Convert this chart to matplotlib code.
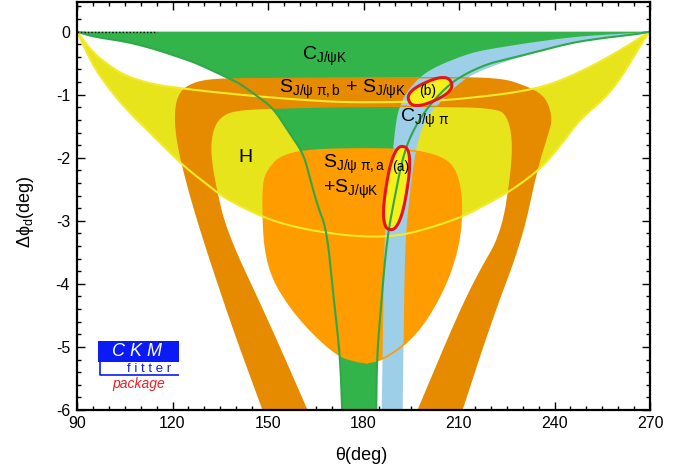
import numpy as np
import matplotlib
matplotlib.use("Agg")
import matplotlib.pyplot as plt
from matplotlib.patches import Polygon, Rectangle

plt.rcParams['font.family'] = ['Liberation Sans', 'DejaVu Sans']
plt.rcParams['mathtext.fontset'] = 'custom'
plt.rcParams['mathtext.rm'] = 'Liberation Sans'
plt.rcParams['mathtext.it'] = 'Liberation Sans:italic'
plt.rcParams['mathtext.bf'] = 'Liberation Sans:bold'
plt.rcParams['mathtext.sf'] = 'Liberation Sans'
plt.rcParams['axes.unicode_minus'] = False

# ---------------- constraint boundaries (theta [deg], delta phi_d [deg]) ----------------
# C_{J/psi K}: left and right edges of the allowed band (top to bottom)
c_jpsik_left_theta = [90, 95.1, 105.7, 114, 121.3, 127, 131.8, 136, 139, 141, 146, 151.6, 156, 161.1,
                      163, 165.5, 168.5, 170.5, 172.6, 173.3]
c_jpsik_left_phi = [0, -0.08, -0.16, -0.27, -0.39, -0.49, -0.6, -0.7, -0.77, -0.82, -1.0, -1.21, -1.55,
                    -1.93, -2.29, -2.75, -3.15, -4.18, -5.1, -6.0]
c_jpsik_right_theta = [270, 265.8, 255.2, 244.9, 234.4, 223.9, 219.8, 213.5, 207.2, 200.4, 195.7, 192.5,
                       189.9, 187.3, 185.2, 184.2, 184.0]
c_jpsik_right_phi = [0, -0.04, -0.1, -0.18, -0.32, -0.45, -0.5, -0.63, -0.82, -1.18, -1.55, -1.95,
                     -2.6, -3.3, -4.52, -5.2, -6.0]

# C_{J/psi pi}: two edges of the band (bottom to upper right)
c_jpsipi_left_theta = [185.7, 186.1, 186.5, 187.8, 188.9, 189.9, 190.9, 193.6, 197.8, 203, 209.3, 215,
                       224, 234.4, 245, 255.2, 265.8, 270]
c_jpsipi_left_phi = [-6, -4.8, -3.3, -2.6, -2.08, -1.55, -1.24, -0.95, -0.71, -0.55, -0.42, -0.32,
                     -0.24, -0.16, -0.09, -0.05, -0.02, 0]
c_jpsipi_right_theta = [192.3, 192.6, 193.1, 194.5, 196, 197.8, 200, 203, 209, 214, 224, 234.4, 244.9,
                        255.2, 265.8, 270]
c_jpsipi_right_phi = [-6, -4.8, -3.3, -2.6, -2.0, -1.6, -1.35, -1.18, -0.86, -0.68, -0.48, -0.33,
                      -0.19, -0.1, -0.045, 0]

# H: upper and lower edges (left to right)
h_top_theta = [90, 95.1, 100.4, 105.6, 114, 124.5, 135, 147.5, 160, 173, 190, 205, 213.5, 224, 232.3,
               239, 244.9, 250, 255.2, 260.5, 265.8, 270]
h_top_phi = [0, -0.34, -0.55, -0.71, -0.84, -0.91, -0.97, -1.03, -1.08, -1.12, -1.12, -1.09, -1.05,
             -0.99, -0.92, -0.83, -0.71, -0.59, -0.45, -0.3, -0.13, 0]
h_bot_theta = [90, 95.1, 100, 105.6, 116.1, 123.4, 132.8, 137, 149, 160, 172.6, 180, 187.3, 195,
               210.3, 220, 227, 235.5, 242, 248, 255.3, 260.6, 268, 270]
h_bot_phi = [0, -0.55, -0.9, -1.24, -1.76, -2.13, -2.5, -2.66, -2.96, -3.12, -3.22, -3.25, -3.25, -3.2,
             -2.96, -2.7, -2.5, -2.18, -1.8, -1.39, -1.08, -0.76, -0.13, 0]

# S_{J/psi pi,b} + S_{J/psi K}: outer edge then inner edge of the horseshoe
s_b_outer_theta = [148.5, 139.1, 129.7, 124.5, 121.3, 120.8, 122.4, 126.5, 131, 137, 160, 190, 213.5,
                   224, 229.2, 234.4, 237.6, 239.1, 237.9, 234.4, 229.7, 220.3, 210.9]
s_b_outer_phi = [-6, -4.71, -3.29, -2.4, -1.71, -1.24, -0.95, -0.82, -0.77, -0.75, -0.74, -0.73, -0.73,
                 -0.76, -0.84, -0.95, -1.1, -1.39, -1.61, -2.18, -3.29, -4.55, -6]
s_b_inner_theta = [197.2, 209.3, 216, 223.5, 226.5, 227, 225.5, 222, 200, 170, 152.7, 139.1, 134.4,
                   132.3, 131.8, 133.4, 137, 149.6, 162.2]
s_b_inner_phi = [-6, -4.55, -3.85, -3.2, -2.24, -1.71, -1.35, -1.2, -1.18, -1.19, -1.21, -1.24, -1.37,
                 -1.6, -1.92, -2.45, -3.2, -4.55, -6]

# S_{J/psi pi,a} + S_{J/psi K}: closed contour
s_a_theta = [181, 177.9, 172.6, 167.4, 162.2, 156.9, 151.7, 149.2, 148.5, 148.5, 150.1, 153.8, 162.2,
             175, 186, 195.7, 204, 208.3, 210.4, 210.9, 209.8, 206.1, 199.9, 193.6, 186.2, 181]
s_a_phi = [-5.25, -5.23, -5.15, -4.94, -4.68, -4.36, -3.94, -3.5, -3.0, -2.4, -2.19, -1.98, -1.88,
           -1.86, -1.86, -1.88, -1.98, -2.14, -2.46, -2.88, -3.41, -3.99, -4.57, -4.94, -5.2, -5.25]

# combined solutions (a) and (b): centre, semi-axes [px], tilt [deg]
sol_names = ['(a)', '(b)']
sol_theta = [190.4, 200.9]
sol_phi = [-2.48, -0.95]
sol_major_px = [42, 23]
sol_minor_px = [10.5, 10.0]
sol_tilt_deg = [81, 24]

x_ticks = [90, 120, 150, 180, 210, 240, 270]
y_ticks = [-6, -5, -4, -3, -2, -1, 0]
y_ticklabels = ['-6', '-5', '-4', '-3', '-2', '-1', '0']

# ---------------- colours ----------------
col_green = '#33b44a'
col_green_line = '#2fa84a'
col_yellow = '#e8e41c'
col_yellow_line = '#f3ea2c'
col_orange_b = '#e68b00'
col_orange_a = '#fe9c00'
col_blue = '#9dcfe8'
col_red = '#e5141b'
col_sol = '#f5f01a'
col_logo = '#0b1bf5'


def chaikin(x, y, n=3):
    p = np.column_stack([x, y]).astype(float)
    for _ in range(n):
        q = [p[0]]
        for a, b in zip(p[:-1], p[1:]):
            q.append(0.75 * a + 0.25 * b)
            q.append(0.25 * a + 0.75 * b)
        q.append(p[-1])
        p = np.array(q)
    return p


fig = plt.figure(figsize=(6.88, 4.74), dpi=100)
ax = fig.add_axes([77 / 688, 64 / 474, 573 / 688, 408 / 474])
ax.set_xlim(90, 270)
ax.set_ylim(-6, 0.47)

# H
yt = chaikin(h_top_theta, h_top_phi)
yb = chaikin(h_bot_theta, h_bot_phi)
ax.add_patch(Polygon(np.vstack([yt, yb[::-1]]), closed=True, fc=col_yellow, ec='none', zorder=1))

# C_{J/psi K}
gl = chaikin(c_jpsik_left_theta, c_jpsik_left_phi)
gr = chaikin(c_jpsik_right_theta, c_jpsik_right_phi)
ax.add_patch(Polygon(np.vstack([gl, gr[::-1]]), closed=True, fc=col_green, ec='none', zorder=2))

# S_b horseshoe
sbo = chaikin(s_b_outer_theta, s_b_outer_phi)
sbi = chaikin(s_b_inner_theta, s_b_inner_phi)
sb = np.vstack([sbo, sbi])
ax.add_patch(Polygon(sb, closed=True, fc=col_orange_b, ec='none', zorder=3))

# S_a region
sa = chaikin(s_a_theta, s_a_phi)
ax.add_patch(Polygon(sa, closed=True, fc=col_orange_a, ec='none', zorder=3))

# C_{J/psi pi}
bl = chaikin(c_jpsipi_left_theta, c_jpsipi_left_phi)
br = chaikin(c_jpsipi_right_theta, c_jpsipi_right_phi)
ax.add_patch(Polygon(np.vstack([bl, br[::-1]]), closed=True, fc=col_blue, ec='none', zorder=4))

# contour outlines drawn over the fills
ax.plot(sb[:, 0], sb[:, 1], color=col_orange_b, lw=1.0, zorder=5)
ax.plot(sa[:, 0], sa[:, 1], color=col_orange_a, lw=1.2, zorder=5)
for c in (yt, yb):
    ax.plot(c[:, 0], c[:, 1], color=col_yellow_line, lw=1.5, zorder=6)

# combined solutions, built in display space so the tilt is as seen on the page
fig.canvas.draw()
tr = ax.transData
inv = tr.inverted()
t = np.linspace(0, 2 * np.pi, 240)
sol_outlines = []
for th0, ph0, a, b, ang in zip(sol_theta, sol_phi, sol_major_px, sol_minor_px, sol_tilt_deg):
    cx, cy = tr.transform((th0, ph0))
    r = np.deg2rad(ang)
    # slightly squarish ellipse (capsule-like contour)
    ct, st = np.cos(t), np.sin(t)
    cu = np.sign(ct) * np.abs(ct) ** 0.8
    sv = np.sign(st) * np.abs(st) ** 0.8
    u = a * cu * np.cos(r) - b * sv * np.sin(r)
    v = a * cu * np.sin(r) + b * sv * np.cos(r)
    pts = inv.transform(np.column_stack([cx + u, cy + v]))
    ax.add_patch(Polygon(pts, closed=True, fc=col_sol, ec='none', zorder=7))
    sol_outlines.append(pts)

for c in (gl, gr):
    ax.plot(c[:, 0], c[:, 1], color=col_green_line, lw=1.5, zorder=8)
for pts in sol_outlines:
    ax.add_patch(Polygon(pts, closed=True, fc='none', ec=col_red, lw=2.2, zorder=9))

ax.plot([90, 115], [0, 0], color='black', ls=(0, (1, 1.5)), lw=1.0, zorder=9)

# labels
lab = dict(fontsize=14, color='black', zorder=10, ha='left', va='baseline')
ax.text(160.6, -0.45, r'C$_{\mathrm{J/\psi K}}$', **lab)
ax.text(153.6, -0.98, r'S$_{\mathrm{J/\psi\ \pi,b}}$ + S$_{\mathrm{J/\psi K}}$', **lab)
ax.text(191.5, -1.43, r'C$_{\mathrm{J/\psi\ \pi}}$', **lab)
ax.text(140.7, -2.06, 'H', **lab)
ax.text(167.2, -2.17, r'S$_{\mathrm{J/\psi\ \pi,a}}$', **lab)
ax.text(167.2, -2.56, r'+S$_{\mathrm{J/\psi K}}$', **lab)
ax.text(191.8, -2.15, sol_names[0], fontsize=10, ha='center', va='center', zorder=10)
ax.text(200.1, -0.94, sol_names[1], fontsize=10, ha='center', va='center', zorder=10)

# axes styling
ax.set_xticks(x_ticks)
ax.set_xticks(np.arange(90, 271, 5), minor=True)
ax.set_yticks(y_ticks)
ax.set_yticklabels(y_ticklabels)
ax.set_yticks(np.arange(-6, 0.41, 0.2), minor=True)
ax.tick_params(which='both', direction='in', top=True, right=True, width=1.0, labelsize=11.5)
ax.tick_params(which='major', length=6)
ax.tick_params(which='minor', length=3.2)
ax.tick_params(axis='x', pad=4)
ax.tick_params(axis='y', pad=5)
for s in ax.spines.values():
    s.set_linewidth(1.6)
    s.set_zorder(12)

fig.text(25 / 688, 1 - 212 / 474, r'$\mathrm{\Delta\phi}_{\mathrm{d}}$(deg)', rotation=90,
         ha='center', va='center', fontsize=13)
fig.text(361 / 688, 1 - 455 / 474, 'θ(deg)', ha='center', va='center', fontsize=13)

# CKMfitter logo
x0, x1 = (98.3 - 77) / 573, (179.3 - 77) / 573
ax.add_patch(Rectangle((x0, 0.118), x1 - x0, 0.051, transform=ax.transAxes, fc=col_logo,
                       ec='none', zorder=11))
ax.plot([x0 + 0.003, x0 + 0.003, x1], [0.118, 0.086, 0.086], transform=ax.transAxes,
        color=col_logo, lw=1.2, zorder=11, solid_capstyle='butt')
ax.text((x0 + x1) / 2 - 0.004, 0.1435, 'C K M', transform=ax.transAxes, color='white',
        fontsize=13, style='italic', ha='center', va='center', zorder=12)
ax.text(0.126, 0.101, 'f i t t e r', transform=ax.transAxes, color=col_logo, fontsize=9.5,
        ha='center', va='center', zorder=12)
ax.text(0.107, 0.064, 'package', transform=ax.transAxes, color='#ee1c25', fontsize=10,
        style='italic', ha='center', va='center', zorder=12)

fig.savefig('out.png', dpi=100)
